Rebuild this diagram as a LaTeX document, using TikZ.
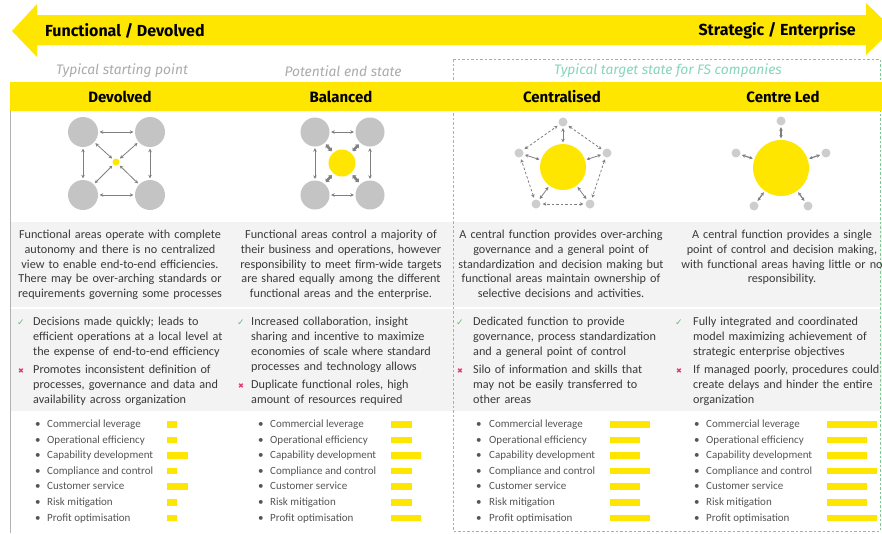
\documentclass[tikz,border=0pt]{standalone}
\usepackage{fontspec}
\setmainfont{Carlito}
\newfontfamily\hdr{Fira Sans}
\newfontfamily\symf{DejaVu Sans}
\usetikzlibrary{arrows.meta,calc}
\definecolor{eyy}{HTML}{FFE600}
\definecolor{circg}{HTML}{C4C4C4}
\definecolor{arrg}{HTML}{7F7F7F}
\definecolor{txtg}{HTML}{3A3A3A}
\definecolor{lstg}{HTML}{555555}
\definecolor{subg}{HTML}{ABABAB}
\definecolor{subgr}{HTML}{86D6BD}
\definecolor{boxgr}{HTML}{7CCB8C}
\definecolor{rowbg}{HTML}{F3F3F3}
\definecolor{okg}{HTML}{6DB97E}
\definecolor{badr}{HTML}{E5336D}
\tikzset{
  band/.style={fill=eyy, draw=none},
  bandtxt/.style={font=\hdr\bfseries\fontsize{16}{19}\selectfont, text=black, inner sep=0pt},
  subtxt/.style={font=\hdr\itshape\fontsize{13.8}{16}\selectfont, text=subg, inner sep=0pt},
  coltxt/.style={font=\hdr\bfseries\fontsize{15}{18}\selectfont, text=black, inner sep=0pt},
  desc/.style={font=\fontsize{12.2}{14.8}\selectfont, text=txtg, align=center, text width=270pt, inner sep=0pt, anchor=base},
  para/.style={font=\fontsize{12.2}{15}\selectfont, text=txtg, align=left, text width=240pt, inner sep=0pt, anchor=base west},
  okm/.style={font=\symf\fontsize{9}{10}\selectfont, text=okg, inner sep=0pt, anchor=base},
  badm/.style={font=\symf\fontsize{7}{8}\selectfont, text=badr, inner sep=0pt, anchor=base},
  lst/.style={font=\fontsize{11}{15.6}\selectfont, text=lstg, align=left, inner sep=0pt, anchor=base west},
  bigc/.style={circle, fill=circg, draw=none, minimum size=#1, inner sep=0pt},
  smc/.style={circle, fill=circg!85, draw=none, minimum size=9pt, inner sep=0pt},
  yc/.style={circle, fill=eyy, draw=none, minimum size=#1, inner sep=0pt},
  dbl/.style={arrg, line width=0.8pt, {Stealth[length=3.5pt,width=3.5pt]}-{Stealth[length=3.5pt,width=3.5pt]}, shorten >=1.5pt, shorten <=1.5pt},
  dbld/.style={arrg, line width=0.8pt, dash pattern=on 2.5pt off 2pt, {Stealth[length=3.5pt,width=3.5pt]}-{Stealth[length=3.5pt,width=3.5pt]}, shorten >=2pt, shorten <=2pt},
  stub/.style={arrg, line width=2.6pt, {Stealth[length=3pt,width=5.5pt]}-{Stealth[length=3pt,width=5.5pt]}},
  bar/.style={fill=eyy, draw=none},
}
\begin{document}
\begin{tikzpicture}[x=1pt,y=-1pt]
\clip (0,0) rectangle (882,533);
\fill[white] (0,0) rectangle (882,533);
% top double arrow band
\fill[band] (12,31) -- (37,4) -- (37,15) -- (866,15) -- (866,3) -- (893,29) -- (866,55) -- (866,45) -- (37,45) -- (37,57) -- cycle;
\node[bandtxt, anchor=west] (lefttxt) at (45,31) {Functional / Devolved};
\node[bandtxt, anchor=east] (righttxt) at (856,31) {Strategic / Enterprise};
% row backgrounds
\fill[rowbg] (10,222) rectangle (882,307);
\fill[rowbg] (10,309) rectangle (882,411);
% left border
\draw[gray!60, line width=0.8pt] (10,111) -- (10,533);
% green dashed box
\draw[boxgr, line width=1pt, dash pattern=on 2.5pt off 2pt] (453,59) rectangle (880,531);
% subtitles
\node[subtxt] (s1) at (122,71) {Typical starting point};
\node[subtxt] (s2) at (343,71) {Potential end state};
\node[subtxt, text=subgr] (s3) at (668,71) {Typical target state for FS companies};
% header bar
\fill[band] (10,82) rectangle (882,111);
\node[coltxt] (h1) at (120,97) {Devolved};
\node[coltxt] (h2) at (341,97) {Balanced};
\node[coltxt] (h3) at (562,97) {Centralised};
\node[coltxt] (h4) at (783,97) {Centre Led};

% ---------- Devolved diagram
\node[bigc=30pt] (d1) at (83,132) {};
\node[bigc=30pt] (d2) at (150,132) {};
\node[bigc=30pt] (d3) at (83,195) {};
\node[bigc=30pt] (d4) at (150,195) {};
\node[yc=7pt] (dc) at (116,162) {};
\draw[dbl] (d1) -- (d2);
\draw[dbl] (d3) -- (d4);
\draw[dbl] (d1) -- (d3);
\draw[dbl] (d2) -- (d4);
\draw[dbl] (d1) -- (dc);
\draw[dbl] (d2) -- (dc);
\draw[dbl] (d3) -- (dc);
\draw[dbl] (d4) -- (dc);

% ---------- Balanced diagram
\node[bigc=29pt] (b1) at (315,132) {};
\node[bigc=29pt] (b2) at (370,132) {};
\node[bigc=29pt] (b3) at (315,195) {};
\node[bigc=29pt] (b4) at (370,195) {};
\node[yc=27pt] (bc) at (342,163) {};
\draw[dbl] (b1) -- (b2);
\draw[dbl] (b3) -- (b4);
\draw[dbl] (b1) -- (b3);
\draw[dbl] (b2) -- (b4);
\draw[stub] ($(b1)!0.40!(bc)$) -- ($(b1)!0.62!(bc)$);
\draw[stub] ($(b2)!0.40!(bc)$) -- ($(b2)!0.62!(bc)$);
\draw[stub] ($(b3)!0.40!(bc)$) -- ($(b3)!0.62!(bc)$);
\draw[stub] ($(b4)!0.40!(bc)$) -- ($(b4)!0.62!(bc)$);

% ---------- Centralised diagram
\node[yc=46pt] (cc) at (563,167) {};
\node[smc] (c1) at (563,122) {};
\node[smc] (c2) at (607,153) {};
\node[smc] (c3) at (590,204) {};
\node[smc] (c4) at (536,204) {};
\node[smc] (c5) at (519,153) {};
\draw[dbld] (c1) -- (c2);
\draw[dbld] (c2) -- (c3);
\draw[dbld] (c3) -- (c4);
\draw[dbld] (c4) -- (c5);
\draw[dbld] (c5) -- (c1);
\foreach \i in {1,...,5} {\draw[dbl] (c\i) -- (cc);}

% ---------- Centre Led diagram
\node[yc=56pt] (lc) at (781,168) {};
\node[smc] (l1) at (781,121) {};
\node[smc] (l2) at (826,153) {};
\node[smc] (l3) at (808,206) {};
\node[smc] (l4) at (754,206) {};
\node[smc] (l5) at (736,153) {};
\foreach \i in {1,...,5} {\draw[dbl, line width=1.2pt] (l\i) -- (lc);}

% ---------- descriptions
\node[desc] (t1) at (120,238.5) {Functional areas operate with complete\\autonomy and there is no centralized\\view to enable end-to-end efficiencies.\\There may be over-arching standards or\\requirements governing some processes};
\node[desc] (t2) at (341,238.5) {Functional areas control a majority of\\their business and operations, however\\responsibility to meet firm-wide targets\\are shared equally among the different\\functional areas and the enterprise.};
\node[desc] (t3) at (561,238.5) {A central function provides over-arching\\governance and a general point of\\standardization and decision making but\\functional areas maintain ownership of\\selective decisions and activities.};
\node[desc] (t4) at (782,238.5) {A central function provides a single\\point of control and decision making,\\with functional areas having little or no\\responsibility.};

% ---------- pros / cons
\node[okm] (ok1) at (21,325) {✓};
\node[para] (p1) at (33,325.5) {Decisions made quickly; leads to\\efficient operations at a local level at\\the expense of end-to-end efficiency};
\node[badm] (x1) at (21,373) {✖};
\node[para] (n1) at (33,373.5) {Promotes inconsistent definition of\\processes, governance and data and\\availability across organization};

\node[okm] (ok2) at (241,325) {✓};
\node[para] (p2) at (251,325.5) {Increased collaboration, insight\\sharing and incentive to maximize\\economies of scale where standard\\processes and technology allows};
\node[badm] (x2) at (241,388) {✖};
\node[para] (n2) at (251,388.5) {Duplicate functional roles, high\\amount of resources required};

\node[okm] (ok3) at (460,325) {✓};
\node[para] (p3) at (473,325.5) {Dedicated function to provide\\governance, process standardization\\and a general point of control};
\node[badm] (x3) at (460,373) {✖};
\node[para] (n3) at (473,373.5) {Silo of information and skills that\\may not be easily transferred to\\other areas};

\node[okm] (ok4) at (679,325) {✓};
\node[para] (p4) at (693,325.5) {Fully integrated and coordinated\\model maximizing achievement of\\strategic enterprise objectives};
\node[badm] (x4) at (679,373) {✖};
\node[para] (n4) at (693,373.5) {If managed poorly, procedures could\\create delays and hinder the entire\\organization};

% ---------- rating lists
\foreach \col/\bx/\tx/\barx/\wlist in {
  1/35/47/167/{10,10,21,10,21,10,10},
  2/258/270/391/{21,21,30,21,21,21,30},
  3/476/489/610/{40,30,30,40,30,30,40},
  4/694/706/827/{50,40,40,50,40,40,50}} {
  \foreach \lab [count=\k] in {Commercial leverage,Operational efficiency,Capability development,Compliance and control,Customer service,Risk mitigation,Profit optimisation} {
    \pgfmathsetmacro{\yy}{424+(\k-1)*15.6}
    \pgfmathsetmacro{\ww}{{\wlist}[\k-1]}
    \node[lst] (bul\col-\k) at (\bx,\yy+3.5) {•};
    \node[lst] (lab\col-\k) at (\tx,\yy+3.5) {\lab};
    \fill[bar] (\barx,\yy-3) rectangle (\barx+\ww,\yy+3.5);
  }
}
\end{tikzpicture}
\end{document}
